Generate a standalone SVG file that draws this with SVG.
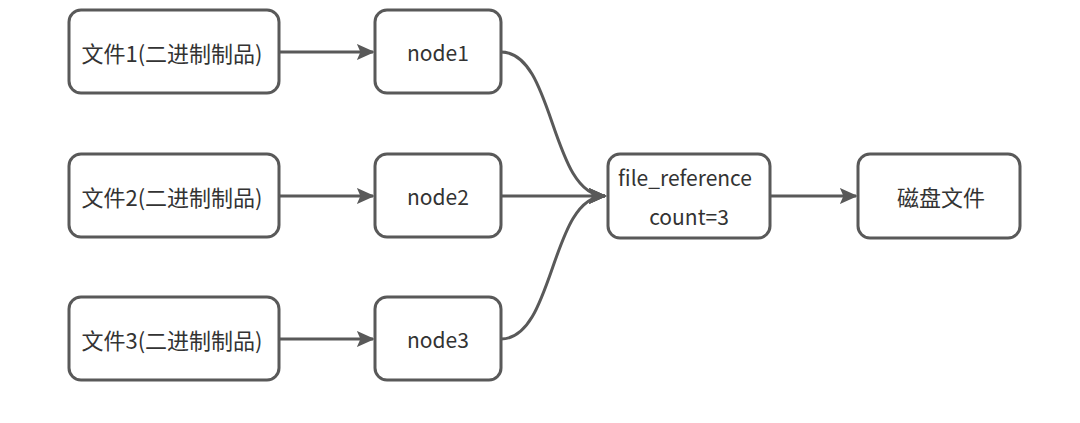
<svg xmlns="http://www.w3.org/2000/svg" width="1080" height="423" viewBox="0 0 1080 423">
<style>
.box{fill:#fff;stroke:#595959;stroke-width:3}
.t{font-family:"Noto Sans CJK SC","Noto Sans",sans-serif;font-size:21px;fill:#333;text-anchor:middle;dominant-baseline:central}
.c{font-size:22px}
.e{fill:none;stroke:#595959;stroke-width:3}
</style>
<defs>
<marker id="ah" viewBox="0 0 10 10" refX="9" refY="5" markerWidth="6" markerHeight="6" markerUnits="strokeWidth" orient="auto">
<path d="M0,0.5 L10,5 L0,9.5 L2,5 Z" fill="#595959"/>
</marker>
</defs>
<rect width="1080" height="423" fill="#fff"/>
<g id="f1"><rect class="box" x="69" y="10" width="210" height="83" rx="12"/><text class="t c" x="172" y="52">文件1(二进制制品)</text></g>
<g id="f2"><rect class="box" x="69" y="154" width="210" height="83" rx="12"/><text class="t c" x="172" y="196">文件2(二进制制品)</text></g>
<g id="f3"><rect class="box" x="69" y="297" width="210" height="83" rx="12"/><text class="t c" x="172" y="339">文件3(二进制制品)</text></g>
<g id="n1"><rect class="box" x="375" y="10" width="126" height="83" rx="12"/><text class="t" x="438" y="52">node1</text></g>
<g id="n2"><rect class="box" x="375" y="154" width="126" height="83" rx="12"/><text class="t" x="438" y="196">node2</text></g>
<g id="n3"><rect class="box" x="375" y="297" width="126" height="83" rx="12"/><text class="t" x="438" y="339">node3</text></g>
<g id="fr"><rect class="box" x="608" y="154" width="162" height="84" rx="12"/><text class="t" x="685" y="177">file_reference</text><text class="t" x="689" y="216">count=3</text></g>
<g id="disk"><rect class="box" x="858" y="154" width="162" height="84" rx="12"/><text class="t c" x="941" y="196">磁盘文件</text></g>
<g id="edges">
<path class="e" d="M279,52 H373" marker-end="url(#ah)"/>
<path class="e" d="M279,196 H373" marker-end="url(#ah)"/>
<path class="e" d="M279,339 H373" marker-end="url(#ah)"/>
<path class="e" d="M501,52 C555,52 550,196 605,196" marker-end="url(#ah)"/>
<path class="e" d="M501,196 H605" marker-end="url(#ah)"/>
<path class="e" d="M501,339 C555,339 550,196 605,196" marker-end="url(#ah)"/>
<path class="e" d="M770,196 H856" marker-end="url(#ah)"/>
</g>
</svg>
